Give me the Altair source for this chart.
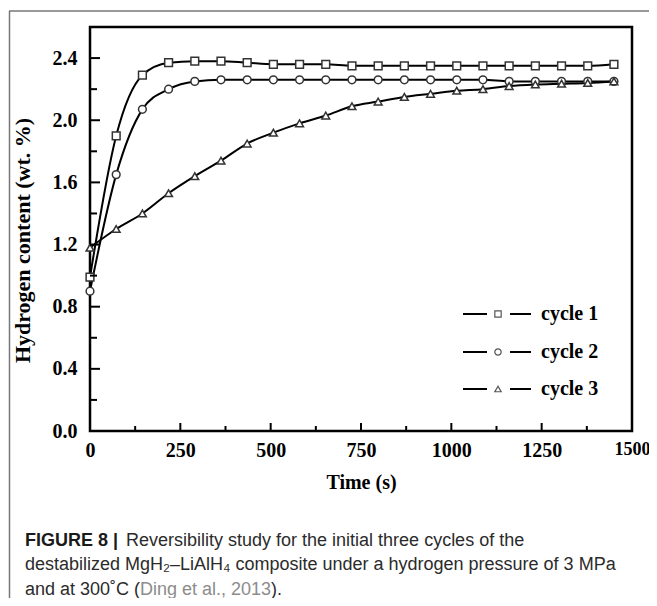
import altair as alt
import pandas as pd

# ---------------- data ----------------
times = [0, 72.5, 145, 217.5, 290, 362.5, 435, 507.5, 580, 652.5, 725,
         797.5, 870, 942.5, 1015, 1087.5, 1160, 1232.5, 1305, 1377.5, 1450]
cycle1 = [0.99, 1.90, 2.29, 2.37, 2.38, 2.38, 2.37, 2.36, 2.36, 2.36, 2.35,
          2.35, 2.35, 2.35, 2.35, 2.35, 2.35, 2.35, 2.35, 2.35, 2.36]
cycle2 = [0.90, 1.65, 2.07, 2.20, 2.25, 2.26, 2.26, 2.26, 2.26, 2.26, 2.26,
          2.26, 2.26, 2.26, 2.26, 2.26, 2.25, 2.25, 2.25, 2.25, 2.25]
cycle3 = [1.18, 1.30, 1.40, 1.53, 1.64, 1.74, 1.85, 1.92, 1.98, 2.03, 2.09,
          2.12, 2.15, 2.17, 2.19, 2.20, 2.22, 2.23, 2.235, 2.24, 2.25]
series_names = ["cycle 1", "cycle 2", "cycle 3"]
series_shapes = ["square", "circle", "triangle-up"]

x_major = [0, 250, 500, 750, 1000, 1250, 1500]
x_minor = [125, 375, 625, 875, 1125, 1375]
y_major = [0.0, 0.4, 0.8, 1.2, 1.6, 2.0, 2.4]
y_minor = [0.2, 0.6, 1.0, 1.4, 1.8, 2.2]

caption_l1_bold = "FIGURE 8 |"
caption_l1 = "Reversibility study for the initial three cycles of the"
caption_l2 = "destabilized MgH\u2082\u2013LiAlH\u2084 composite under a hydrogen pressure of 3 MPa"
caption_l3a = "and at 300\u02daC ("
caption_l3b = "Ding et al., 2013"
caption_l3c = ")."

W, H = 542, 404
SERIF = "Liberation Serif"
SANS = "Liberation Sans"

rows = []
for name, vals in zip(series_names, [cycle1, cycle2, cycle3]):
    for t, v in zip(times, vals):
        rows.append({"series": name, "time": t, "h": v})
df = pd.DataFrame(rows)
one = pd.DataFrame({"k": [0]})

xs = alt.Scale(domain=[0, 1500], nice=False)
ys = alt.Scale(domain=[0, 2.6], nice=False)

lines = alt.Chart(df).mark_line(color="black", strokeWidth=2, interpolate="monotone").encode(
    x=alt.X("time:Q", scale=xs,
            axis=alt.Axis(values=x_major, format="d", title="Time (s)", labelFlush=False,
                          labelPadding=9, titlePadding=12, labelOverlap=False,
                          labelFontSize={"condition": {"test": "datum.value == 1500", "value": 18},
                                         "value": 20})),
    y=alt.Y("h:Q", scale=ys,
            axis=alt.Axis(values=y_major, format=".1f", title="Hydrogen content (wt. %)",
                          titleFontSize=22, titleY=213,
                          labelPadding=13, titlePadding=18, labelOverlap=False)),
    detail="series:N",
)

points = alt.Chart(df).mark_point(filled=True, fill="white", stroke="#333333",
                                  strokeWidth=1.5, size=60, opacity=1).encode(
    x=alt.X("time:Q", scale=xs),
    y=alt.Y("h:Q", scale=ys),
    shape=alt.Shape("series:N", scale=alt.Scale(domain=series_names, range=series_shapes),
                    legend=None),
)

# inward ticks
xt_major = alt.Chart(pd.DataFrame({"v": x_major[1:-1]})).mark_rule(color="black", strokeWidth=2).encode(
    x=alt.X("v:Q", scale=xs), y=alt.value(H), y2=alt.value(H - 8))
xt_minor = alt.Chart(pd.DataFrame({"v": x_minor})).mark_rule(color="black", strokeWidth=2).encode(
    x=alt.X("v:Q", scale=xs), y=alt.value(H), y2=alt.value(H - 5))
yt_major = alt.Chart(pd.DataFrame({"v": y_major[1:]})).mark_rule(color="black", strokeWidth=2).encode(
    y=alt.Y("v:Q", scale=ys), x=alt.value(0), x2=alt.value(10))
yt_minor = alt.Chart(pd.DataFrame({"v": y_minor})).mark_rule(color="black", strokeWidth=2).encode(
    y=alt.Y("v:Q", scale=ys), x=alt.value(0), x2=alt.value(7))

# legend (manual, inside plot)
legend_layers = []
leg_y = [287, 325, 362]
for name, shp, yy in zip(series_names, series_shapes, leg_y):
    legend_layers.append(alt.Chart(one).mark_rule(color="black", strokeWidth=2).encode(
        x=alt.value(373), x2=alt.value(397), y=alt.value(yy)))
    legend_layers.append(alt.Chart(one).mark_rule(color="black", strokeWidth=2).encode(
        x=alt.value(420), x2=alt.value(441), y=alt.value(yy)))
    legend_layers.append(alt.Chart(one).mark_point(shape=shp, filled=True, fill="white",
                                                   stroke="#555555", strokeWidth=1.2,
                                                   size=40, opacity=1).encode(
        x=alt.value(408), y=alt.value(yy)))
    legend_layers.append(alt.Chart(one).mark_text(font=SERIF, fontWeight="bold", fontSize=20,
                                                  align="left", baseline="middle",
                                                  color="black").encode(
        x=alt.value(451), y=alt.value(yy), text=alt.value(name)))

# outer frame (grey top and left lines)
frame_top = alt.Chart(one).mark_rule(color="#777777", strokeWidth=1.5).encode(
    x=alt.value(-81), x2=alt.value(600), y=alt.value(-16))
frame_left = alt.Chart(one).mark_rule(color="#777777", strokeWidth=1.5).encode(
    x=alt.value(-80.5), y=alt.value(-16), y2=alt.value(600))

# caption
def ctext(txt, x, y, weight="normal", color="#2b2b2b"):
    return alt.Chart(one).mark_text(font=SANS, fontSize=18, fontWeight=weight, align="left",
                                    baseline="alphabetic", color=color).encode(
        x=alt.value(x), y=alt.value(y), text=alt.value(txt))

cap = [
    ctext(caption_l1_bold, -65, 519, weight="bold", color="#1a1a1a"),
    ctext(caption_l1, 36, 519),
    ctext(caption_l2, -65, 543),
    ctext(caption_l3a, -65, 568),
    ctext(caption_l3b, 50, 568, color="#8c8c8c"),
    ctext(caption_l3c, 181, 568),
]

chart = alt.layer(
    frame_top, frame_left, lines, points, xt_major, xt_minor, yt_major, yt_minor,
    *legend_layers, *cap
).properties(
    width=W, height=H,
    background="white",
    autosize=alt.AutoSizeParams(type="none"),
    padding={"left": 82, "top": 19, "right": 17, "bottom": 167},
).configure_view(
    stroke="black", strokeWidth=2.5
).configure_axis(
    labelFont=SERIF, labelFontWeight="bold", labelFontSize=20, labelColor="black",
    titleFont=SERIF, titleFontWeight="bold", titleFontSize=20, titleColor="black",
    ticks=False, domain=False, grid=False,
)

chart.save("out.html", embed_options={"renderer": "svg", "actions": False})
